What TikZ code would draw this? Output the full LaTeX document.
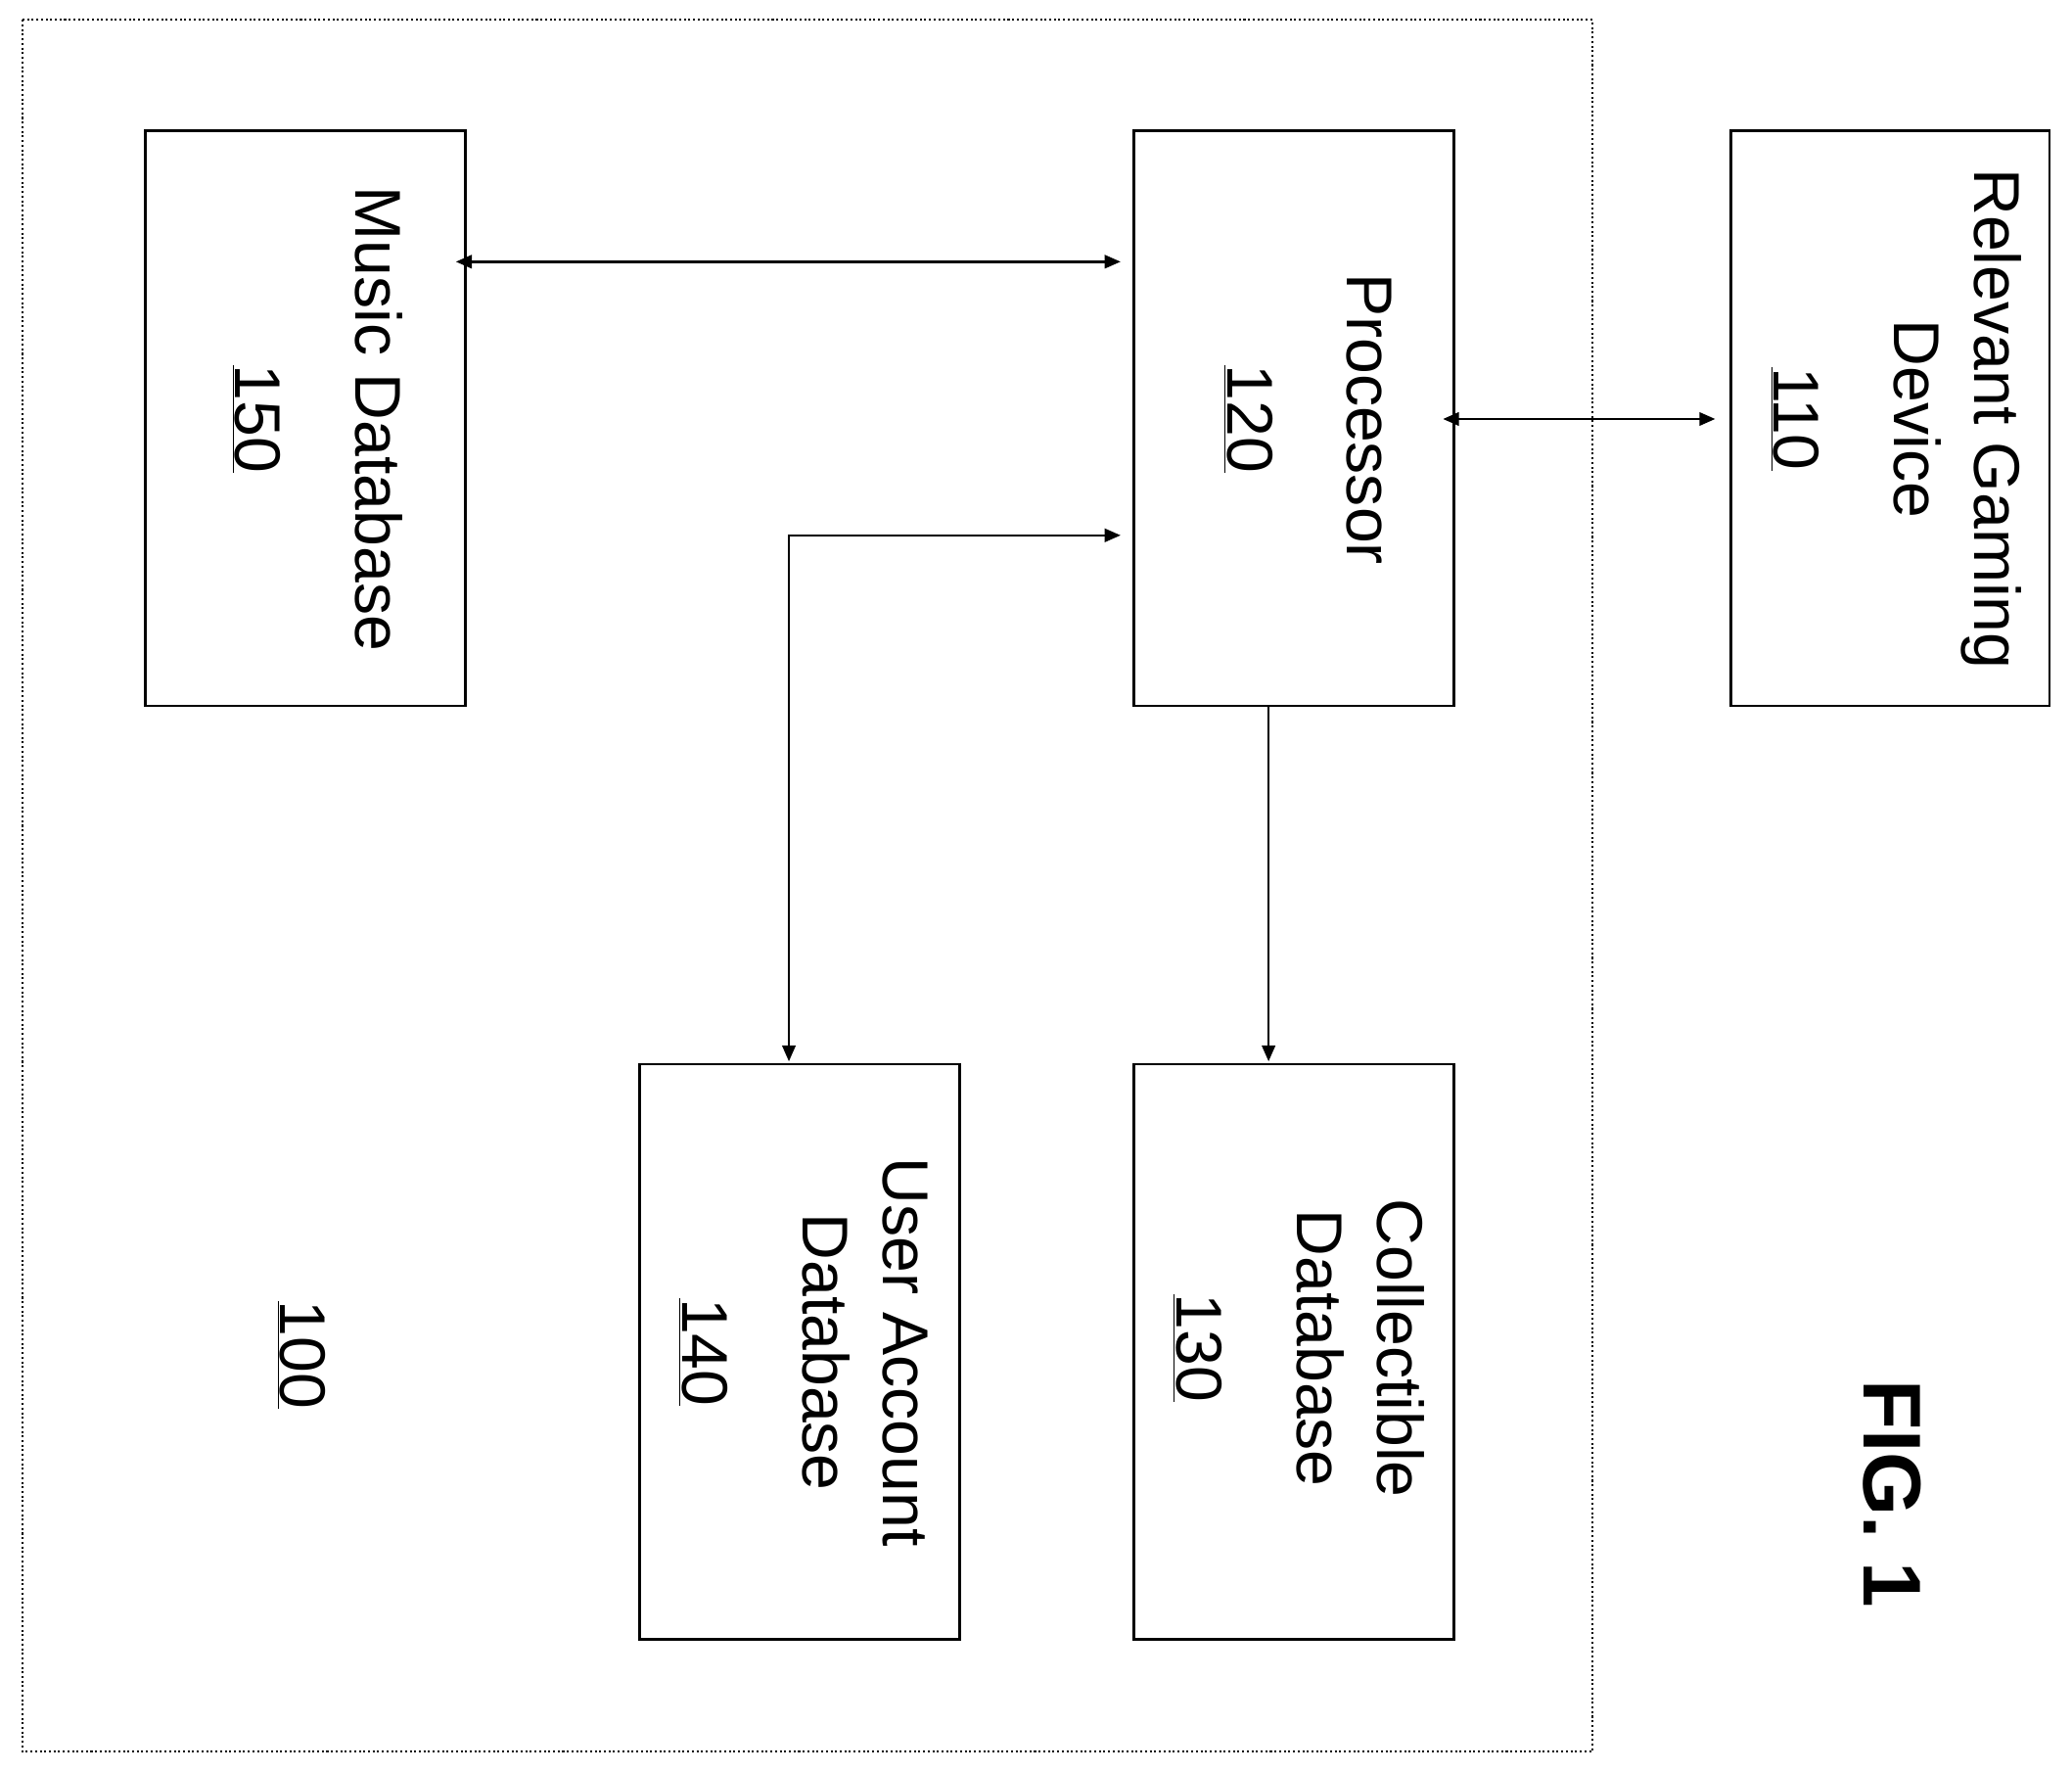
\documentclass[tikz,border=0pt]{standalone}
\usepackage{fontspec}
\setmainfont{Liberation Sans}
\usetikzlibrary{arrows.meta}
\begin{document}
\begin{tikzpicture}[x=1pt,y=-1pt,
 box/.style={draw,line width=2pt},
 lbl/.style={rotate=-90,align=center,font=\fontsize{49}{61}\selectfont},
 ar/.style={line width=1.8pt,-{Triangle[length=12pt,width=10pt]}},
 dar/.style={line width=1.8pt,{Triangle[length=12pt,width=10pt]}-{Triangle[length=12pt,width=10pt]}}]
\useasboundingbox (0,0) rectangle (1568,1340);
\draw[line width=1.5pt,dotted] (17,15) rectangle (1205,1325);
\draw[box] (110,99) rectangle (352,534);
\draw[box] (858,99) rectangle (1100,534);
\draw[box] (1310,99) rectangle (1551,534);
\draw[box] (484,805) rectangle (726,1240);
\draw[box] (858,805) rectangle (1100,1240);
\node[lbl] (mus) at (240,317) {Music Database\\[30pt]\underline{150}};
\node[lbl] (pro) at (990,317) {Processor\\[30pt]\underline{120}};
\node[lbl] (rel) at (1435,317) {Relevant Gaming\\Device\\[30pt]\underline{110}};
\node[lbl] (usr) at (608,1023) {User Account\\Database\\[30pt]\underline{140}};
\node[lbl] (col) at (983,1020) {Collectible\\Database\\[30pt]\underline{130}};
\node[lbl] (sys) at (228,1025) {\underline{100}};
\node[rotate=-90,font=\bfseries\fontsize{62}{70}\selectfont] (fig) at (1432,1130) {FIG. 1};
\coordinate (a1) at (345,198); \coordinate (a2) at (848,198);
\coordinate (b1) at (1092,317); \coordinate (b2) at (1298,317);
\coordinate (c1) at (597,803); \coordinate (c2) at (848,405);
\coordinate (d1) at (960,534); \coordinate (d2) at (960,803);
\draw[dar] (a1) -- (a2);
\draw[dar] (b1) -- (b2);
\draw[dar] (c1) |- (c2);
\draw[ar] (d1) -- (d2);
\end{tikzpicture}
\end{document}
